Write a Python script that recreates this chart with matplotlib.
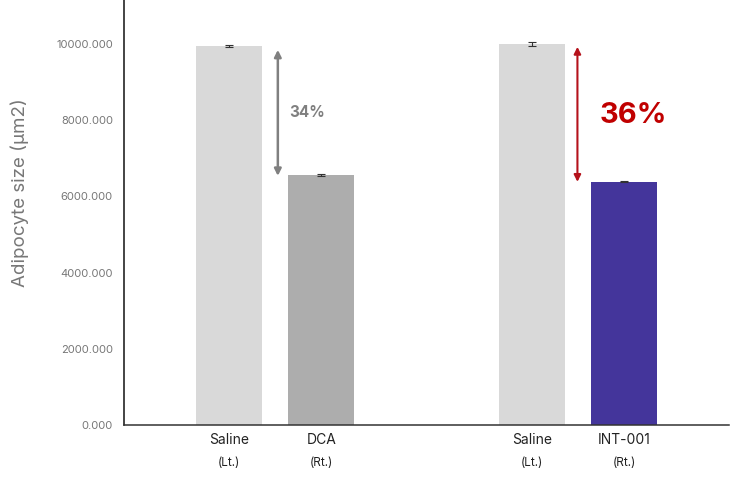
import matplotlib
matplotlib.use('Agg')
import matplotlib.pyplot as plt
from matplotlib.transforms import blended_transform_factory

plt.rcParams['font.family'] = ['Inter', 'DejaVu Sans']

names = ['Saline', 'DCA', 'Saline', 'INT-001']
sides = ['(Lt.)', '(Rt.)', '(Lt.)', '(Rt.)']
sizes = [9940, 6550, 9990, 6380]
errs = [35, 30, 50, 15]
pos = [0, 1, 3.28, 4.28]
colors = ['#d9d9d9', '#adadad', '#d9d9d9', '#44359b']

fig = plt.figure(figsize=(7.44, 4.82), dpi=100)
ax = fig.add_axes([0.1667, 0.1183, 0.8133, 0.8817])

ax.bar(pos, sizes, width=0.71, color=colors, yerr=errs,
       error_kw=dict(ecolor='#333333', elinewidth=0.8, capsize=3, capthick=0.8))

ax.set_xlim(-1.135, 5.415)
ax.set_ylim(0, 11150)
ax.set_yticks([0, 2000, 4000, 6000, 8000, 10000])
ax.set_yticklabels(['%.3f' % v for v in [0, 2000, 4000, 6000, 8000, 10000]],
                   fontsize=8, color='#777777')
ax.set_xticks(pos)
ax.set_xticklabels(names, fontsize=10, color='#222222')
ax.tick_params(axis='both', length=0, pad=8)
ax.tick_params(axis='x', pad=6)
trans = blended_transform_factory(ax.transData, ax.transAxes)
for p, s in zip(pos, sides):
    ax.text(p, -0.075, s, transform=trans, ha='center', va='top',
            fontsize=8.5, color='#222222')

for sp in ['top', 'right']:
    ax.spines[sp].set_visible(False)
ax.spines['left'].set_color('#111111')
ax.spines['bottom'].set_color('#333333')
ax.spines['left'].set_linewidth(1.1)
ax.spines['bottom'].set_linewidth(1.1)

ax.set_ylabel('Adipocyte size (μm2)', fontsize=13.5, color='#777777')
ax.yaxis.set_label_coords(-0.157, 0.546)

# difference arrows
ax.annotate('', xy=(0.53, 6535), xytext=(0.53, 9843),
            arrowprops=dict(arrowstyle='<|-|>', color='#808080', lw=1.8,
                            mutation_scale=10, shrinkA=0, shrinkB=0))
ax.text(0.85, 8190, '34%', fontsize=11, fontweight='bold', color='#808080',
        ha='center', va='center')
ax.annotate('', xy=(3.773, 6378), xytext=(3.773, 9921),
            arrowprops=dict(arrowstyle='<|-|>', color='#b5121b', lw=1.5,
                            mutation_scale=10, shrinkA=0, shrinkB=0))
ax.text(4.38, 8120, '36%', fontsize=21, fontweight='bold', color='#c00000',
        ha='center', va='center')

fig.savefig('out.png', dpi=100)
